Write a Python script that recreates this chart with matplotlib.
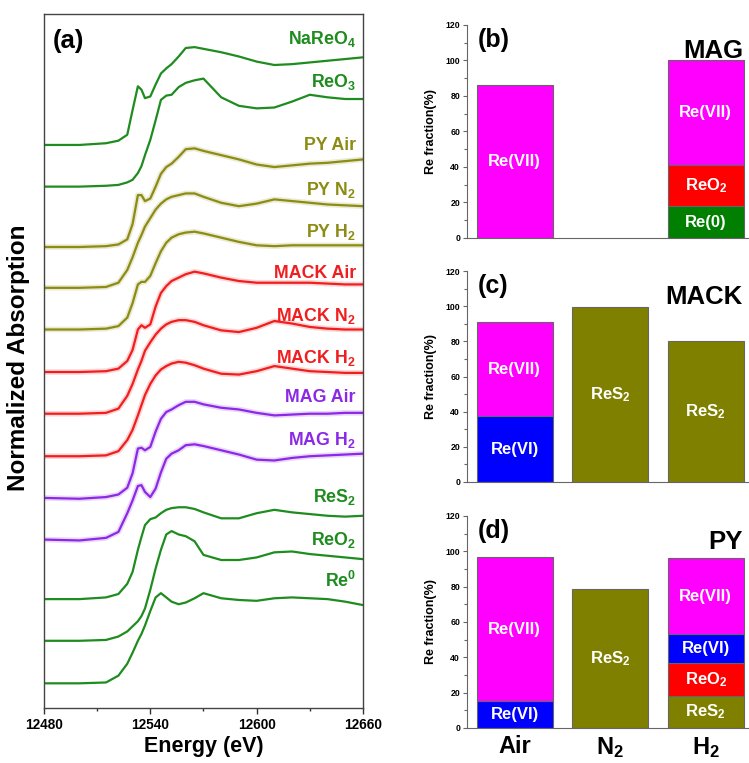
import matplotlib
matplotlib.use("Agg")
import matplotlib.pyplot as plt
import numpy as np

plt.rcParams['font.family'] = ['Liberation Sans', 'DejaVu Sans']
plt.rcParams['font.weight'] = 'bold'
plt.rcParams['mathtext.fontset'] = 'custom'
plt.rcParams['mathtext.rm'] = 'Liberation Sans:bold'
plt.rcParams['mathtext.bf'] = 'Liberation Sans:bold'
plt.rcParams['mathtext.default'] = 'bf'

# %% Data - panel (a), Re L3-edge XANES (normalized)

energy = [12480, 12500, 12515, 12522, 12527, 12530, 12533, 12535, 12537, 12540,
          12543, 12546, 12549, 12552, 12556, 12560, 12565, 12570, 12580, 12590,
          12600, 12610, 12620, 12630, 12640, 12650, 12660]

mu_nareo4 = [0.00, 0.00, 0.02, 0.05, 0.12, 0.41, 0.69, 0.65, 0.55, 0.57, 0.71, 0.84, 0.90, 0.95,
             1.04, 1.14, 1.15, 1.13, 1.09, 1.04, 0.98, 0.94, 0.95, 0.97, 0.99, 1.01, 1.03]
mu_reo3 = [0.00, 0.00, 0.01, 0.02, 0.05, 0.08, 0.16, 0.24, 0.37, 0.55, 0.78, 1.02, 1.07, 1.08,
           1.17, 1.22, 1.25, 1.27, 1.05, 0.95, 0.92, 0.93, 1.00, 1.08, 1.05, 1.03, 1.03]
mu_py_air = [0.00, 0.00, 0.01, 0.03, 0.09, 0.27, 0.61, 0.61, 0.54, 0.57, 0.71, 0.86, 0.94, 0.98,
             1.06, 1.15, 1.16, 1.13, 1.08, 1.03, 0.97, 0.94, 0.96, 0.98, 0.99, 1.01, 1.03]
mu_py_n2 = [0.00, 0.00, 0.01, 0.06, 0.21, 0.36, 0.53, 0.62, 0.72, 0.82, 0.92, 0.99, 1.04, 1.07,
            1.09, 1.11, 1.11, 1.07, 1.00, 0.96, 0.99, 1.04, 1.02, 1.00, 0.98, 0.97, 0.96]
mu_py_h2 = [0.00, 0.00, 0.01, 0.04, 0.14, 0.31, 0.53, 0.56, 0.56, 0.63, 0.78, 0.92, 1.02, 1.08,
            1.12, 1.14, 1.15, 1.13, 1.08, 1.03, 0.99, 0.98, 0.99, 0.99, 0.99, 0.99, 0.99]
mu_mack_air = [0.00, 0.00, 0.01, 0.04, 0.13, 0.26, 0.50, 0.55, 0.52, 0.56, 0.77, 0.93, 1.01, 1.07,
               1.11, 1.15, 1.18, 1.16, 1.11, 1.07, 1.05, 1.05, 1.05, 1.05, 1.04, 1.03, 1.03]
mu_mack_n2 = [0.00, 0.00, 0.01, 0.06, 0.21, 0.35, 0.52, 0.62, 0.74, 0.84, 0.93, 1.00, 1.05, 1.08,
              1.10, 1.10, 1.08, 1.04, 0.98, 0.96, 1.01, 1.09, 1.06, 1.02, 1.00, 0.99, 0.99]
mu_mack_h2 = [0.00, 0.00, 0.01, 0.06, 0.19, 0.31, 0.48, 0.60, 0.72, 0.85, 0.95, 1.02, 1.06, 1.09,
              1.11, 1.10, 1.07, 1.03, 0.97, 0.96, 1.00, 1.06, 1.03, 1.00, 0.99, 0.98, 0.98]
mu_mag_air = [0.00, -0.01, 0.01, 0.04, 0.12, 0.29, 0.58, 0.59, 0.56, 0.60, 0.78, 0.93, 1.01, 1.04,
              1.09, 1.13, 1.13, 1.10, 1.06, 1.04, 1.00, 0.97, 0.98, 0.99, 0.99, 1.00, 1.00]
mu_mag_h2 = [0.00, -0.01, 0.02, 0.09, 0.31, 0.46, 0.63, 0.64, 0.56, 0.50, 0.60, 0.79, 0.95, 1.01,
             1.05, 1.11, 1.12, 1.10, 1.05, 1.00, 0.94, 0.93, 0.96, 0.98, 0.99, 1.00, 1.01]
mu_res2 = [0.00, 0.00, 0.02, 0.06, 0.18, 0.32, 0.58, 0.73, 0.87, 0.94, 0.96, 1.01, 1.05, 1.07,
           1.08, 1.08, 1.06, 1.02, 0.95, 0.95, 1.01, 1.05, 1.02, 1.00, 0.98, 0.97, 0.98]
mu_reo2 = [0.00, 0.00, 0.01, 0.05, 0.11, 0.17, 0.23, 0.29, 0.38, 0.60, 0.85, 1.07, 1.25, 1.29,
           1.25, 1.23, 1.17, 1.01, 0.95, 0.95, 0.98, 1.04, 1.05, 1.02, 1.00, 0.98, 0.96]
mu_re0 = [0.00, 0.00, 0.01, 0.09, 0.23, 0.36, 0.50, 0.58, 0.68, 0.85, 1.01, 1.06, 1.01, 0.96,
          0.93, 0.95, 1.00, 1.06, 1.00, 0.98, 0.97, 1.00, 1.01, 1.00, 0.99, 0.96, 0.92]

spectra = [mu_nareo4, mu_reo3, mu_py_air, mu_py_n2, mu_py_h2, mu_mack_air, mu_mack_n2,
           mu_mack_h2, mu_mag_air, mu_mag_h2, mu_res2, mu_reo2, mu_re0]
names = [r'NaReO$_4$', r'ReO$_3$', 'PY Air', r'PY N$_2$', r'PY H$_2$', 'MACK Air',
         r'MACK N$_2$', r'MACK H$_2$', 'MAG Air', r'MAG H$_2$', r'ReS$_2$', r'ReO$_2$', r'Re$^0$']
offsets = [6.62, 6.13, 5.42, 4.94, 4.45, 3.95, 3.46, 2.96, 2.47, 1.98, 1.28, 0.79, 0.29]
label_y = [7.86, 7.36, 6.61, 6.09, 5.60, 5.11, 4.61, 4.12, 3.65, 3.15, 2.48, 1.98, 1.49]
is_sample = [False, False, True, True, True, True, True, True, True, True, False, False, False]

green = '#1e8c1e'
olive = '#8c8c14'
red = '#f01e1e'
purple = '#8c28e6'
colors = [green, green, olive, olive, olive, red, red, red, purple, purple, green, green, green]

# %% Data - panels (b)-(d), Re fraction (%)

conditions = ['Air', r'N$_2$', r'H$_2$']
# each entry: list of (species, value) stacked from bottom
mag_fr = [[('Re(VII)', 86)], [], [('Re(0)', 18), (r'ReO$_2$', 23), ('Re(VII)', 59)]]
mack_fr = [[('Re(VI)', 37.5), ('Re(VII)', 53.5)], [(r'ReS$_2$', 99.5)], [(r'ReS$_2$', 80)]]
py_fr = [[('Re(VI)', 15), ('Re(VII)', 82)], [(r'ReS$_2$', 78.5)],
         [(r'ReS$_2$', 18), (r'ReO$_2$', 18.5), ('Re(VI)', 16.5), ('Re(VII)', 43)]]

species_color = {'Re(VII)': '#ff00ff', 'Re(VI)': '#0000ff', r'ReO$_2$': '#ff0000',
                 'Re(0)': '#007f00', r'ReS$_2$': '#808000'}

# %% Figure

fig = plt.figure(figsize=(7.49, 7.63), dpi=100)

ax = fig.add_axes([0.0587, 0.0721, 0.4259, 0.9096])
for mu, off, col, samp in zip(spectra, offsets, colors, is_sample):
    y = np.array(mu) + off
    if samp:
        ax.plot(energy, y, color=col, lw=4, alpha=0.18, solid_capstyle='round')
    ax.plot(energy, y, color=col, lw=1.6)
for nm, ly, col in zip(names, label_y, colors):
    ax.text(12656, ly, nm, color=col, fontsize=12.8, fontweight='bold', ha='right', va='center')

ax.set_xlim(12480, 12660)
ax.set_ylim(0, 8.16)
ax.set_xticks([12480, 12540, 12600, 12660])
ax.set_xticks([12510, 12570, 12630], minor=True)
ax.set_yticks([])
ax.tick_params(axis='x', direction='out', length=4, width=1, labelsize=9.8, pad=3, color='#333333')
ax.tick_params(axis='x', which='minor', direction='out', length=2.5, width=1, color='#333333')
for s in ax.spines.values():
    s.set_color('#444444')
    s.set_linewidth(1)
ax.set_xlabel('Energy (eV)', fontsize=15.5, fontweight='bold')
ax.xaxis.set_label_coords(0.5, -0.040)
ax.set_ylabel('Normalized Absorption', fontsize=17.5, fontweight='bold')
ax.yaxis.set_label_coords(-0.045, 0.504)
ax.text(0.028, 0.978, '(a)', transform=ax.transAxes, fontsize=18.5, fontweight='bold', va='top')

panels = [(mag_fr, '(b)', 'MAG', [0.6235, 0.6881, 0.3825, 0.2792]),
          (mack_fr, '(c)', 'MACK', [0.6235, 0.3683, 0.3825, 0.2765]),
          (py_fr, '(d)', 'PY', [0.6235, 0.0459, 0.3825, 0.2779])]

for k, (frac, tag, title, pos) in enumerate(panels):
    bx = fig.add_axes(pos)
    for i, stack in enumerate(frac):
        bottom = 0
        for sp, val in stack:
            bx.bar(i + 1, val, width=0.8, bottom=bottom, color=species_color[sp],
                   edgecolor='#666666', linewidth=0.8)
            bx.text(i + 1, bottom + val / 2, sp, color='white', fontsize=12,
                    fontweight='bold', ha='center', va='center')
            bottom += val
    bx.set_xlim(0.5, 3.5)
    bx.set_ylim(0, 120)
    bx.set_yticks(np.arange(0, 121, 20))
    bx.set_yticks(np.arange(10, 120, 20), minor=True)
    bx.tick_params(axis='y', direction='out', length=3, width=0.8, labelsize=6.3, pad=2, color='#666666')
    bx.tick_params(axis='y', which='minor', direction='out', length=2, width=0.8, color='#666666')
    bx.spines['top'].set_visible(False)
    bx.spines['right'].set_visible(False)
    bx.spines['left'].set_color('#666666')
    bx.spines['bottom'].set_color('#666666')
    bx.set_ylabel('Re fraction(%)', fontsize=9, fontweight='bold')
    bx.yaxis.set_label_coords(-0.105, 0.5)
    bx.text(0.038, 0.985, tag, transform=bx.transAxes, fontsize=18, fontweight='bold', va='top')
    bx.text(0.963, 0.935, title, transform=bx.transAxes, fontsize=18.5, fontweight='bold',
            va='top', ha='right')
    if k == 2:
        bx.set_xticks([1, 2, 3])
        bx.set_xticklabels(conditions, fontsize=17, fontweight='bold')
        bx.tick_params(axis='x', length=0, pad=5)
    else:
        bx.set_xticks([])

fig.savefig('out.png', dpi=100)
